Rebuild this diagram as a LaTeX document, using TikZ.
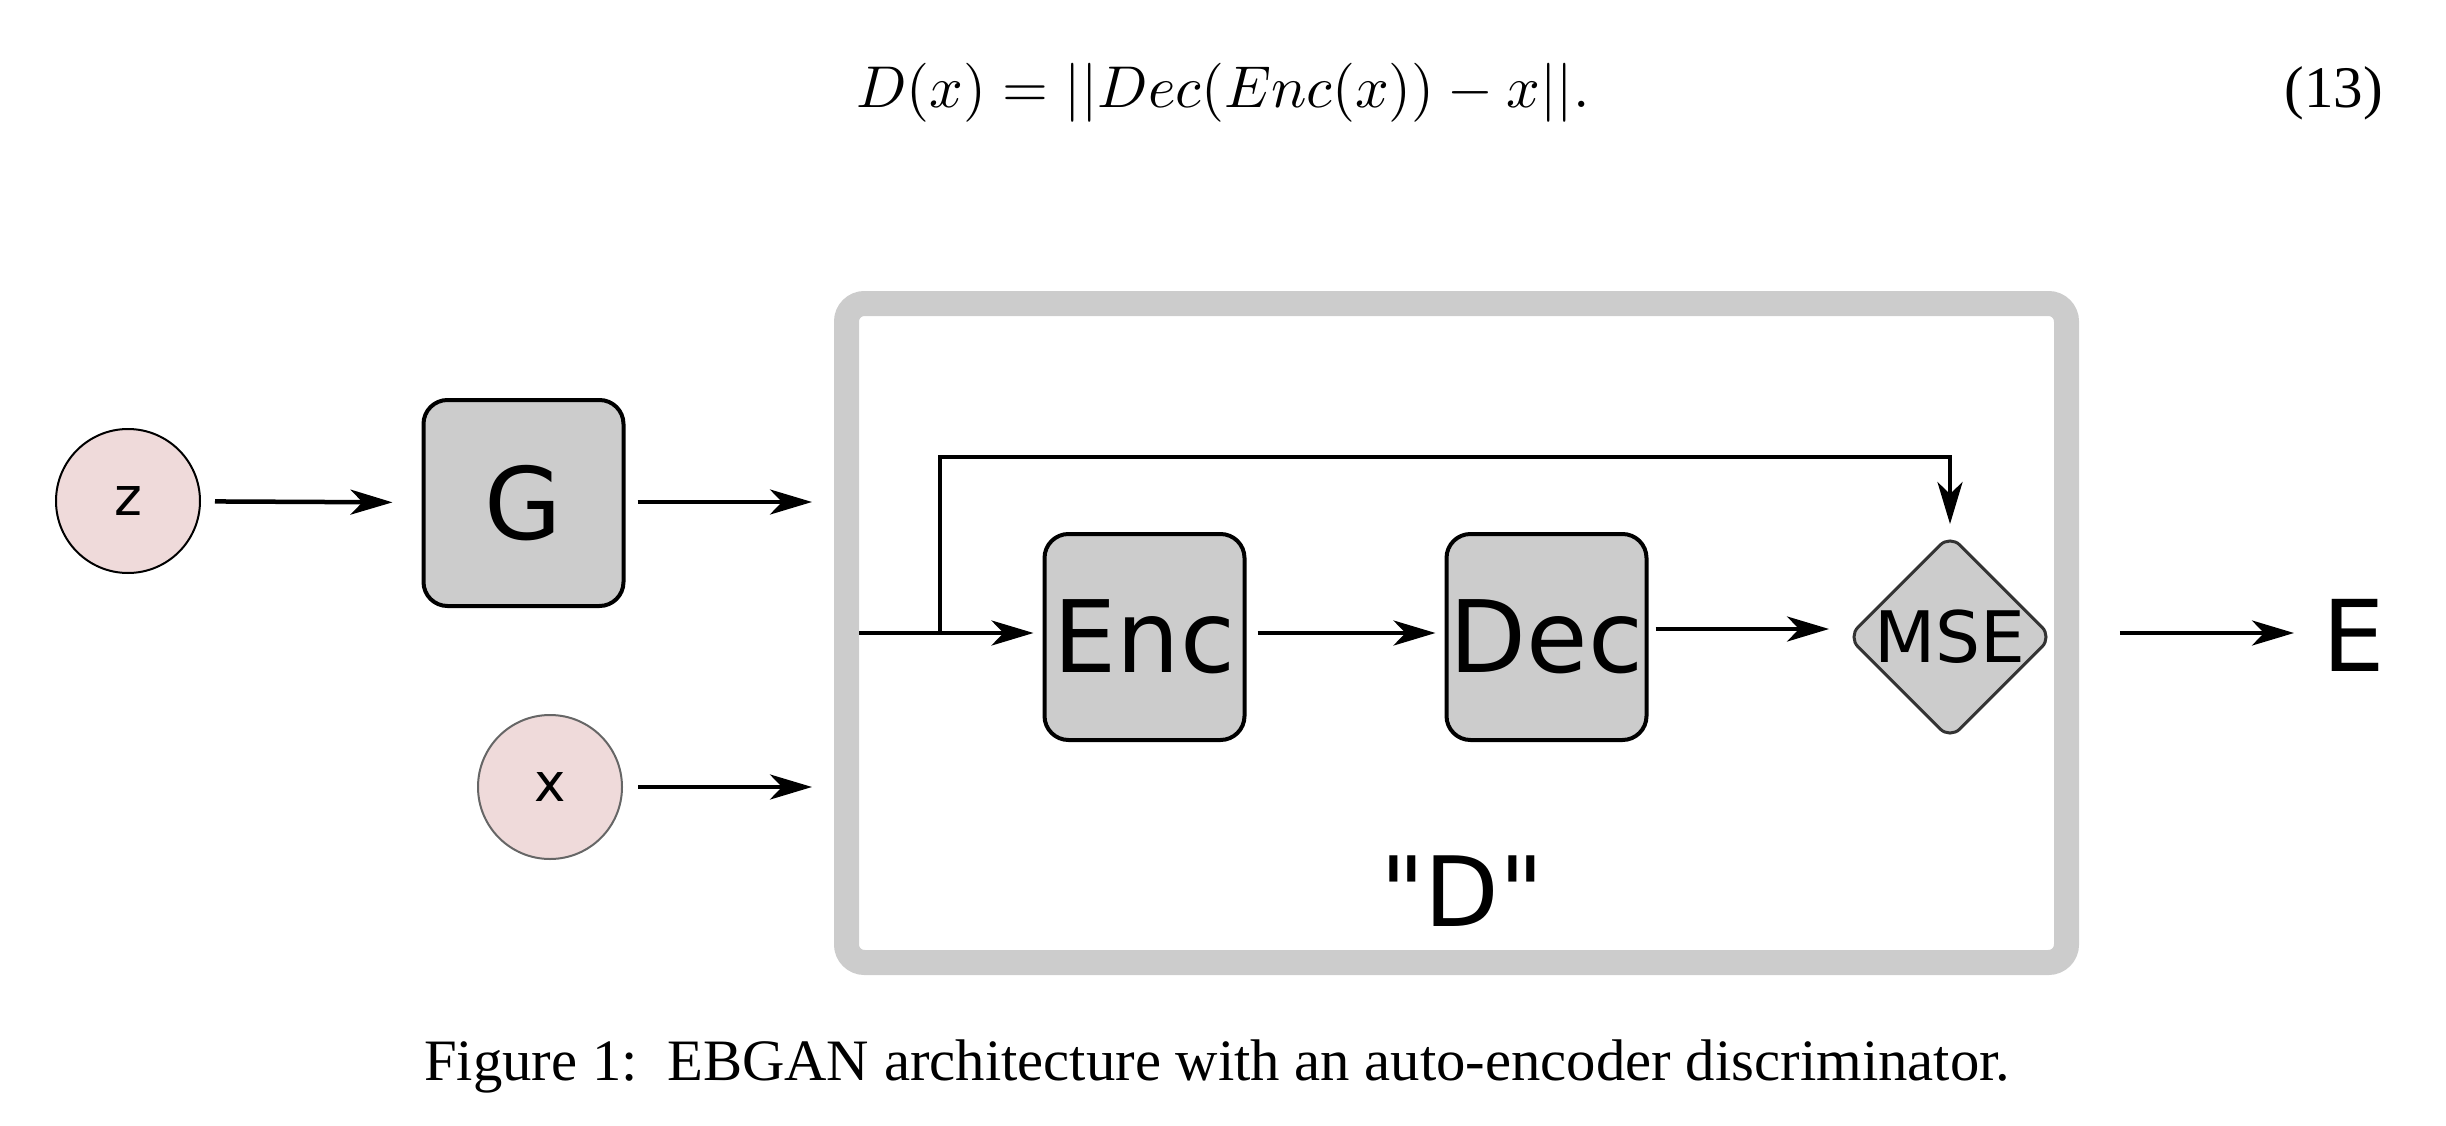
\documentclass[tikz,border=0pt]{standalone}
\usepackage{fontspec}
\newfontfamily\dejavu{DejaVu Sans}
\newfontfamily\timesfont{Liberation Serif}
\usetikzlibrary{arrows.meta,shapes.geometric}
\definecolor{nodepink}{RGB}{239,218,218}
\definecolor{boxgray}{RGB}{204,204,204}
\begin{document}
\begin{tikzpicture}[x=1pt,y=-1pt,
  arr/.style={line width=4.5pt,-{Stealth[length=42pt,width=25pt,inset=12pt]}},
  circ/.style={circle,draw,line width=2pt,fill=nodepink,minimum size=144pt,inner sep=0pt,
    font=\dejavu\fontsize{53}{60}\selectfont},
  blk/.style={draw,line width=4pt,fill=boxgray,rounded corners=24pt,minimum width=200pt,
    minimum height=206pt,inner sep=0pt,font=\dejavu\fontsize{100}{110}\selectfont},
  dia/.style={diamond,draw=black!80,line width=3pt,fill=boxgray,rounded corners=14pt,
    minimum width=189pt,minimum height=189pt,inner sep=0pt,font=\dejavu\fontsize{71}{80}\selectfont},
  frame/.style={draw=boxgray,line width=25pt,rounded corners=18pt}]
\useasboundingbox (0,0) rectangle (2446,1126);

% equation
\node[anchor=base west,inner sep=0pt,scale=5.9] (eq) at (855,108)
  {$D(x) = ||Dec(Enc(x)) - x||.$};
\node[anchor=base east,inner sep=0pt,font=\timesfont\fontsize{59}{70}\selectfont] (eqno) at (2383,108) {(13)};

% D frame
\draw[frame] (846.5,303.5) rectangle (2066.5,962.5);

% nodes
\node[circ] (z) at (128,501) {z};
\node[circ,draw=black!60] (x) at (550,787) {x};
\node[blk] (G) at (523.5,503) {G};
\node[blk] (Enc) at (1144.5,637) {Enc};
\node[blk] (Dec) at (1546.5,637) {Dec};
\node[dia] (MSE) at (1950,637) {MSE};
\node[anchor=base west,inner sep=0pt,font=\dejavu\fontsize{99}{110}\selectfont] (E) at (2322,671) {E};
\node[anchor=base,inner sep=0pt,font=\dejavu\fontsize{97}{110}\selectfont] (Dlbl) at (1462,926) {"D"};

\coordinate (gin) at (812,502);
\coordinate (xin) at (812,787);
\coordinate (din) at (859,633);
\coordinate (br) at (940,633);
\coordinate (tp) at (940,457);

% connectors
\draw[arr,shorten <=14pt,shorten >=29pt] (z) -- (G);
\draw[arr,shorten <=12pt] (G.east |- gin) -- (gin);
\draw[arr,shorten <=15pt] (x.east |- xin) -- (xin);
\draw[arr,shorten >=9pt] (din) -- (din -| Enc.west);
\draw[arr,shorten >=9pt] (br) -- (tp) -| (MSE.north);
\draw[arr,shorten <=11pt,shorten >=9pt] ([yshift=4pt]Enc.east) -- ([yshift=4pt]Dec.west);
\draw[arr,shorten <=7pt,shorten >=17pt] ([yshift=8pt]Dec.east) -- ([yshift=8pt]Dec.east -| MSE.west);
\draw[arr,shorten <=66pt,shorten >=28pt] ([yshift=4pt]MSE.east) -- ([yshift=4pt]MSE.east -| E.west);

% caption
\node[anchor=base west,inner sep=0pt,font=\timesfont\fontsize{58.7}{70}\selectfont] (cap) at (424,1080)
  {Figure 1:\hspace{0.5em}EBGAN architecture with an auto-encoder discriminator.};
\end{tikzpicture}
\end{document}
